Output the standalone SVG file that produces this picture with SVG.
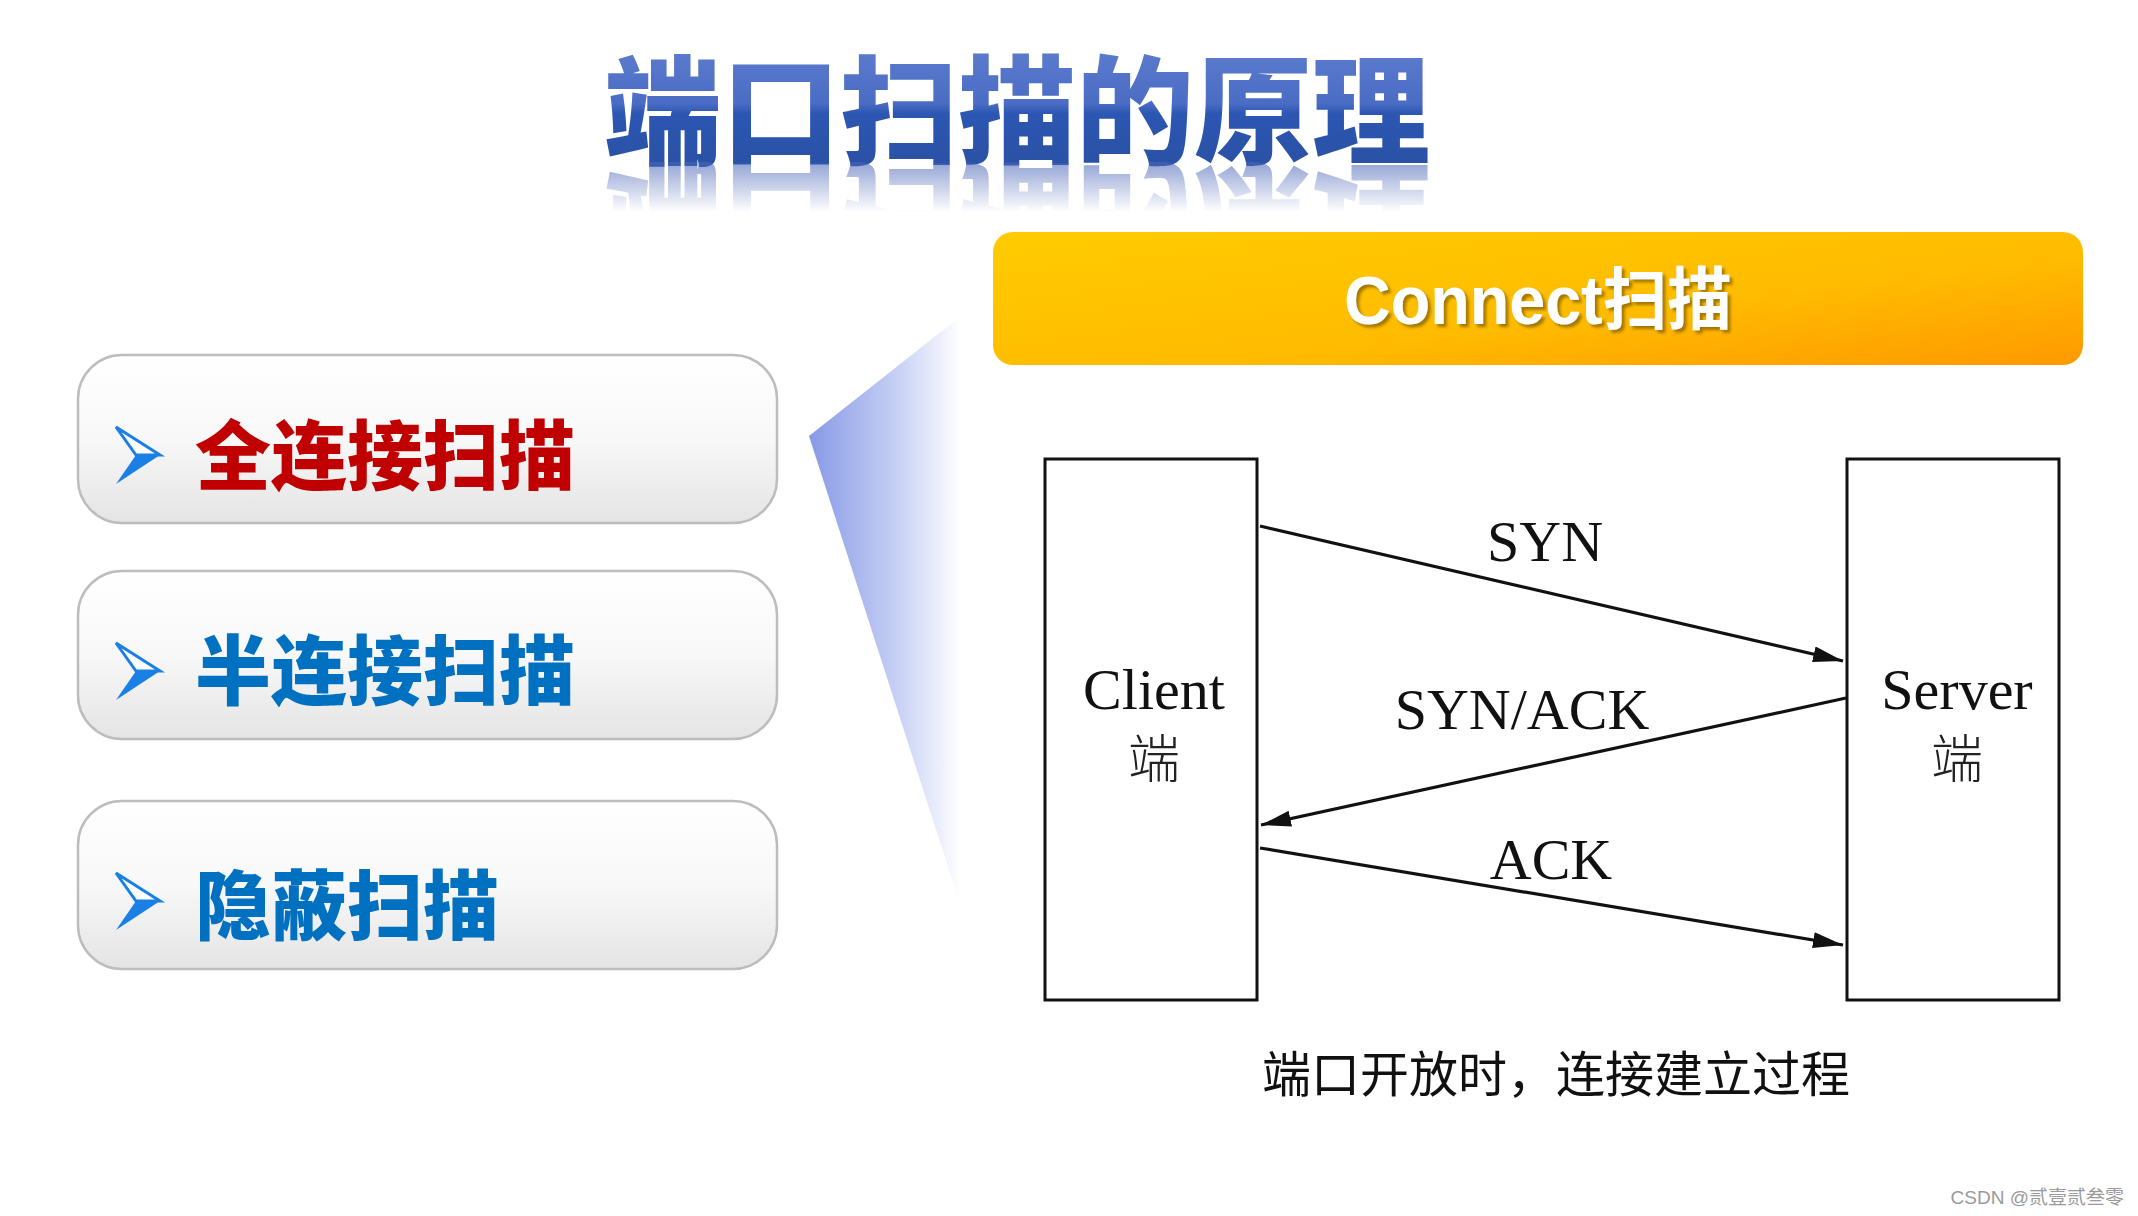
<svg xmlns="http://www.w3.org/2000/svg" width="2138" height="1216" viewBox="0 0 2138 1216">
<defs>
<style>
.btn{fill:url(#btnG);stroke:#bdbdbd;stroke-width:2.5}
.btxt{font-family:"Noto Sans CJK SC","Noto Sans",sans-serif;font-weight:900;font-size:76px}
.box{fill:#fff;stroke:#111;stroke-width:3}
.lbl{font-family:"Liberation Serif","Noto Serif",serif;font-size:58px;fill:#111;text-anchor:middle}
.cjk{font-family:"Noto Sans CJK SC",sans-serif;font-size:52px;fill:#222;text-anchor:middle;font-weight:300}
.conn{stroke:#111;stroke-width:3.2;fill:none;marker-end:url(#ah)}
</style>
<linearGradient id="btnG" x1="0" y1="0" x2="0" y2="1">
<stop offset="0" stop-color="#ffffff"/><stop offset="0.5" stop-color="#f8f8f8"/><stop offset="1" stop-color="#e4e4e4"/>
</linearGradient>
<linearGradient id="titleG" x1="0" y1="0" x2="0" y2="1">
<stop offset="0" stop-color="#6584d2"/><stop offset="0.5" stop-color="#4a6cc4"/><stop offset="0.56" stop-color="#2b56b2"/><stop offset="1" stop-color="#2a4f9f"/>
</linearGradient>
<mask id="reflM" maskUnits="userSpaceOnUse" x="0" y="150" width="2138" height="70">
<rect x="0" y="162" width="2138" height="50" fill="url(#reflMG)"/>
</mask>
<linearGradient id="reflMG" x1="0" y1="0" x2="0" y2="1">
<stop offset="0" stop-color="#fff" stop-opacity="0.6"/><stop offset="1" stop-color="#fff" stop-opacity="0"/>
</linearGradient>
<linearGradient id="orG" x1="0" y1="0" x2="1" y2="1">
<stop offset="0" stop-color="#ffcc00"/><stop offset="0.6" stop-color="#ffbb00"/><stop offset="1" stop-color="#ff9900"/>
</linearGradient>
<linearGradient id="wedgeG" x1="0" y1="0" x2="1" y2="0">
<stop offset="0" stop-color="#8799e6"/><stop offset="0.55" stop-color="#c3cdf4"/><stop offset="1" stop-color="#ffffff"/>
</linearGradient>
<filter id="sh" x="-5%" y="-10%" width="110%" height="130%">
<feDropShadow dx="3" dy="3" stdDeviation="1.5" flood-color="#7a5a00" flood-opacity="0.7"/>
</filter>
<marker id="ah" markerWidth="30" markerHeight="16" refX="30" refY="8" orient="auto" markerUnits="userSpaceOnUse" viewBox="0 0 30 16">
<path d="M0,0 L30,8 L0,16 Z" fill="#111"/>
</marker>
<g id="chev">
<path d="M0,0 L44,28 L20,28 Z" fill="#ffffff" stroke="#1a80e6" stroke-width="3" stroke-linejoin="miter"/>
<path d="M20,28 L44,28 L0,57 Z" fill="#1a80e6"/>
</g>
</defs>
<rect width="2138" height="1216" fill="#ffffff"/>

<g id="title">
<text x="1017" y="155" text-anchor="middle" font-family="Noto Sans CJK SC,sans-serif" font-weight="900" font-size="118" fill="url(#titleG)">端口扫描的原理</text>
<g mask="url(#reflM)">
<text x="1017" y="155" text-anchor="middle" font-family="Noto Sans CJK SC,sans-serif" font-weight="900" font-size="118" fill="#4a66b8" transform="translate(0,328) scale(1,-1)">端口扫描的原理</text>
</g>
</g>

<g id="wedge">
<polygon points="809,436 961,316 961,907" fill="url(#wedgeG)"/>
</g>

<g id="btn-full">
<rect class="btn" x="78" y="355" width="699" height="168" rx="44"/>
<use href="#chev" x="116" y="427"/>
<text class="btxt" x="195" y="484" fill="#c00000">全连接扫描</text>
</g>
<g id="btn-half">
<rect class="btn" x="78" y="571" width="699" height="168" rx="44"/>
<use href="#chev" x="116" y="643"/>
<text class="btxt" x="195" y="699" fill="#0070c0">半连接扫描</text>
</g>
<g id="btn-stealth">
<rect class="btn" x="78" y="801" width="699" height="168" rx="44"/>
<use href="#chev" x="116" y="873"/>
<text class="btxt" x="195" y="934" fill="#0070c0">隐蔽扫描</text>
</g>

<g id="connect-bar">
<rect x="993" y="232" width="1090" height="133" rx="20" fill="url(#orG)"/>
<text x="1538" y="324" text-anchor="middle" font-family="Liberation Sans,Noto Sans CJK SC,sans-serif" font-weight="bold" font-size="68" fill="#ffffff" textLength="388" lengthAdjust="spacingAndGlyphs" filter="url(#sh)">Connect扫描</text>
</g>

<g id="client">
<rect class="box" x="1045" y="459" width="212" height="541"/>
<text class="lbl" x="1154" y="709">Client</text>
<text class="cjk" x="1154" y="778">端</text>
</g>
<g id="server">
<rect class="box" x="1847" y="459" width="212" height="541"/>
<text class="lbl" x="1957" y="709">Server</text>
<text class="cjk" x="1957" y="778">端</text>
</g>

<g id="connectors">
<line class="conn" x1="1260" y1="526" x2="1843" y2="661"/>
<line class="conn" x1="1846" y1="698" x2="1261" y2="825"/>
<line class="conn" x1="1260" y1="848" x2="1843" y2="945"/>
<text class="lbl" x="1545" y="561">SYN</text>
<text class="lbl" x="1522" y="729">SYN/ACK</text>
<text class="lbl" x="1551" y="879">ACK</text>
</g>

<g id="caption">
<text x="1556" y="1092" text-anchor="middle" font-family="Noto Sans CJK SC,sans-serif" font-size="49" fill="#111">端口开放时，连接建立过程</text>
</g>
<text x="2124" y="1204" text-anchor="end" font-family="Liberation Sans,Noto Sans CJK SC,sans-serif" font-size="19" fill="#9a9a9a">CSDN @贰壹贰叁零</text>
</svg>
